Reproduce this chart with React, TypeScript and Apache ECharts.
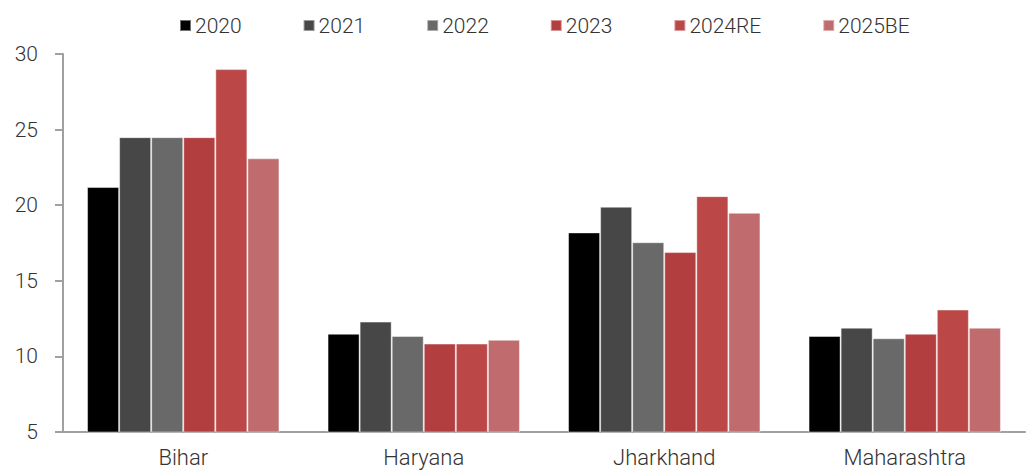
import React, { useEffect, useRef } from "react";
import * as echarts from "echarts";

const categories = ["Bihar", "Haryana", "Jharkhand", "Maharashtra"];
const seriesNames = ["2020", "2021", "2022", "2023", "2024RE", "2025BE"];
const v2020 = [21.2, 11.5, 18.2, 11.35];
const v2021 = [24.5, 12.3, 19.9, 11.9];
const v2022 = [24.5, 11.35, 17.55, 11.2];
const v2023 = [24.5, 10.85, 16.9, 11.5];
const v2024RE = [29.0, 10.85, 20.6, 13.1];
const v2025BE = [23.1, 11.1, 19.5, 11.9];
const seriesValues = [v2020, v2021, v2022, v2023, v2024RE, v2025BE];
const colors = ["#000000", "#474747", "#696969", "#b33e40", "#bb4747", "#c06b6d"];

const FONT = "Roboto";
const TEXT = "#333333";

export default function App() {
  const ref = useRef<HTMLDivElement>(null);
  useEffect(() => {
    document.body.style.margin = "0";
    const chart = echarts.init(ref.current!, undefined, { renderer: "svg" });
    chart.setOption({
      animation: false,
      color: colors,
      legend: {
        top: 10,
        left: 174,
        itemWidth: 11,
        itemHeight: 11,
        itemGap: 61,
        icon: "rect",
        textStyle: { fontFamily: FONT, fontSize: 21, color: TEXT, fontWeight: 300, padding: [0, 0, 0, -1] },
        data: seriesNames,
      },
      grid: { left: 63, right: 1, top: 54, bottom: 41, containLabel: false },
      xAxis: {
        type: "category",
        data: categories,
        axisLine: { lineStyle: { color: "#a0a0a0", width: 2 } },
        axisTick: { show: false },
        axisLabel: { fontFamily: FONT, fontSize: 22, color: TEXT, fontWeight: 300, margin: 14 },
      },
      yAxis: {
        type: "value",
        min: 5,
        max: 30,
        interval: 5,
        splitLine: { show: false },
        axisLine: { show: true, lineStyle: { color: "#a0a0a0", width: 2 } },
        axisTick: { show: true, length: 8, lineStyle: { color: "#a0a0a0", width: 2 } },
        axisLabel: { fontFamily: FONT, fontSize: 21, color: TEXT, fontWeight: 300, margin: 25 },
      },
      series: seriesNames.map((name, i) => ({
        name,
        type: "bar",
        data: seriesValues[i],
        barGap: "0%",
        barCategoryGap: "20%",
        itemStyle: { color: colors[i], borderColor: "rgba(255,255,255,0.45)", borderWidth: 1 },
      })),
    });
    return () => chart.dispose();
  }, []);
  return <div ref={ref} style={{ width: 1026, height: 473 }} />;
}
